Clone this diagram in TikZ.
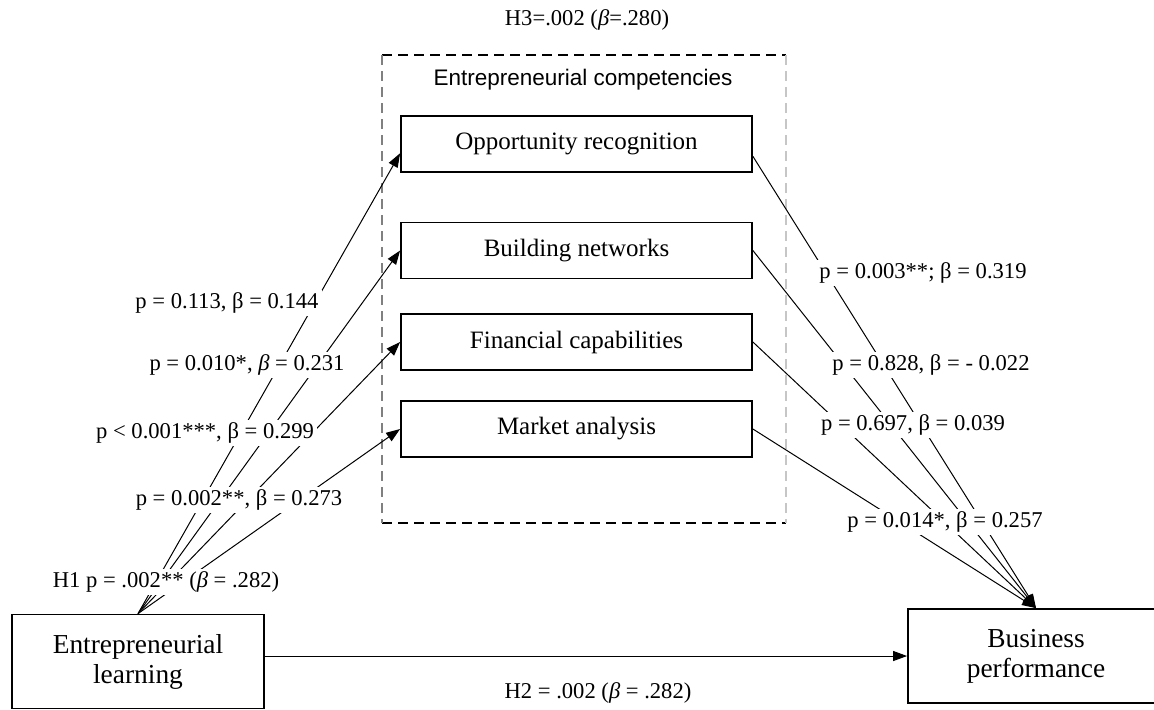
\documentclass[tikz,border=0pt]{standalone}
\usepackage{fontspec}
\setmainfont{Liberation Serif}
\newfontfamily\arialfont{Liberation Sans}
\usetikzlibrary{arrows.meta}

\tikzset{
  compbox/.style={draw,line width=0.9pt,minimum width=175.5pt,minimum height=28pt,font=\fontsize{12.5}{14}\selectfont},
  varbox/.style={draw,line width=0.9pt,minimum width=126pt,minimum height=47pt,align=center,font=\fontsize{13.7}{15}\selectfont},
  plabel/.style={fill=white,inner sep=1.5pt,font=\fontsize{11.3}{13}\selectfont},
  link/.style={line width=0.5pt,-{Triangle[length=7pt,width=5pt]}},
  groupline/.style={line width=0.8pt,dash pattern=on 5pt off 3pt}
}

\begin{document}
\begin{tikzpicture}[x=0.5pt,y=0.5pt]
\useasboundingbox (0,0) rectangle (1154,-709);

   \draw[groupline] (382,-55) -- (786,-55);
   \draw[groupline] (382,-523) -- (786,-523);
   \draw[groupline,gray] (382,-55) -- (382,-523);
   \draw[groupline,gray!45] (786,-55) -- (786,-523);
   \node[font=\arialfont\fontsize{11.25}{13}\selectfont] at (583,-80) (grp) {Entrepreneurial competencies};
   \node[plabel] at (587,-20) (h3) {H3=.002 (\textit{β}=.280)};

   \node[compbox] at (576.5,-144)  (opp)  {Opportunity recognition};
   \node[compbox] at (576.5,-250.5)  (bnet) {Building networks};
   \node[compbox] at (576.5,-342)  (fin)  {Financial capabilities};
   \node[compbox] at (576.5,-429)  (mkt)  {Market analysis};

   \node[varbox] at (138,-661.5) (EL) {Entrepreneurial\\learning};
   \node[varbox,minimum width=128pt] at (1036,-656)  (BP) {Business\\performance};

   \draw[link] (EL.north) -- (opp.183);
   \draw[link] (EL.north) -- (bnet.west);
   \draw[link] (EL.north) -- (fin.west);
   \draw[link] (EL.north) -- (mkt.west);

   \draw[link] (opp.-4) -- (BP.north);
   \draw[link] (bnet.east) -- (BP.north);
   \draw[link] (fin.east) -- (BP.north);
   \draw[link] (mkt.east) -- (BP.north);

   \draw[link] (EL.east |- BP.west) -- (BP.west);

   \node[plabel] at (227,-303) (l1) {p = 0.113, β = 0.144};
   \node[plabel] at (247,-365) (l2) {p = 0.010*, \textit{β} = 0.231};
   \node[plabel] at (205,-433) (l3) {p < 0.001***, β = 0.299};
   \node[plabel] at (239,-500) (l4) {p = 0.002**, β = 0.273};
   \node[plabel] at (166,-582) (h1) {H1 p = .002** (\textit{β} = .282)};

   \node[plabel] at (923,-273) (r1) {p = 0.003**; β = 0.319};
   \node[plabel] at (931,-365) (r2) {p = 0.828, β = - 0.022};
   \node[plabel] at (913,-425) (r3) {p = 0.697, β = 0.039};
   \node[plabel] at (945,-522) (r4) {p = 0.014*, β = 0.257};

   \node[plabel] at (598,-693) (h2) {H2 = .002 (\textit{β} = .282)};

\end{tikzpicture}
\end{document}
